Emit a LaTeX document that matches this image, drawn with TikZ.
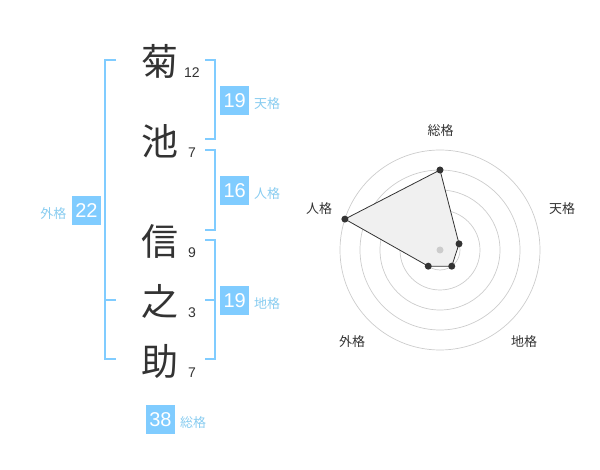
\documentclass[tikz,border=0pt]{standalone}
\usepackage{fontspec}
\setmainfont{Liberation Sans}
\newfontfamily\cjk{Noto Sans CJK JP}
\usetikzlibrary{calc}
\definecolor{boxblue}{RGB}{128,204,255}
\definecolor{lblblue}{RGB}{136,204,240}
\definecolor{ink}{RGB}{51,51,51}
\definecolor{ringgray}{RGB}{204,204,204}
\definecolor{fillgray}{RGB}{240,240,240}
\tikzset{
  kanji/.style={font=\cjk\fontsize{37}{40}\selectfont, text=ink, inner sep=0pt},
  strokes/.style={font=\fontsize{14}{16}\selectfont, text=ink, inner sep=0pt},
  numbox/.style={fill=boxblue, text=white, minimum size=28.5pt, inner sep=0pt, font=\fontsize{20}{22}\selectfont},
  kaku/.style={font=\cjk\fontsize{13}{15}\selectfont, text=lblblue, inner sep=0pt},
  bracket/.style={draw=boxblue, line width=2pt},
  ring/.style={draw=ringgray, line width=0.7pt},
  axlabel/.style={font=\cjk\fontsize{13}{15}\selectfont, text=ink, inner sep=0pt},
  dot/.style={circle, fill=ink, minimum size=7pt, inner sep=0pt},
}
\begin{document}
\begin{tikzpicture}[x=1pt,y=-1pt]
\useasboundingbox (0,0) rectangle (600,470);
% kanji
\node[kanji] (k1) at (160,61) {菊};
\node[kanji] (k2) at (160,141) {池};
\node[kanji] (k3) at (160,241) {信};
\node[kanji] (k4) at (160,301) {之};
\node[kanji] (k5) at (160,361) {助};
% stroke counts
\node[strokes] (s1) at (192,72.5) {12};
\node[strokes] (s2) at (192,152.5) {7};
\node[strokes] (s3) at (192,252.5) {9};
\node[strokes] (s4) at (192,313) {3};
\node[strokes] (s5) at (192,372.5) {7};
% brackets
\draw[bracket] (116,60) -- (105,60) -- (105,359.5) -- (116,359.5);
\draw[bracket] (105,300) -- (116,300);
\draw[bracket] (205,60) -- (214.5,60) -- (214.5,139.5) -- (205,139.5);
\draw[bracket] (205,150) -- (214.5,150) -- (214.5,230) -- (205,230);
\draw[bracket] (205,240) -- (214.5,240) -- (214.5,359.5) -- (205,359.5);
\draw[bracket] (205,300) -- (214.5,300);
% boxes
\node[numbox] (ten) at (234.7,100.3) {19};
\node[kaku, anchor=west] (tenl) at (254,104) {天格};
\node[numbox] (jin) at (234.7,190.3) {16};
\node[kaku, anchor=west] (jinl) at (254,194) {人格};
\node[numbox] (chi) at (234.7,300.3) {19};
\node[kaku, anchor=west] (chil) at (254,304) {地格};
\node[numbox] (gai) at (86.5,210.3) {22};
\node[kaku, anchor=east] (gail) at (66.5,214) {外格};
\node[numbox] (sou) at (160.5,419.3) {38};
\node[kaku, anchor=west] (soul) at (180,422.5) {総格};
% radar
\coordinate (c) at (440,250);
\foreach \r in {20,40,60,80,100} \draw[ring] (c) circle[radius=\r pt];
\coordinate (p1) at ($(c)+(90:80pt)$);
\coordinate (p2) at ($(c)+(18:20pt)$);
\coordinate (p3) at ($(c)+(-54:20pt)$);
\coordinate (p4) at ($(c)+(-126:20pt)$);
\coordinate (p5) at ($(c)+(162:100pt)$);
\draw[ink, fill=fillgray, line width=0.8pt] (p1) -- (p2) -- (p3) -- (p4) -- (p5) -- cycle;
\fill[ringgray] (c) circle[radius=3.5pt];
\foreach \p in {p1,p2,p3,p4,p5} \node[dot] at (\p) {};
\node[axlabel] (a1) at (440.7,130.7) {総格};
\node[axlabel] (a2) at (562,208.7) {天格};
\node[axlabel] (a3) at (524,342) {地格};
\node[axlabel] (a4) at (352,342) {外格};
\node[axlabel] (a5) at (319,208.7) {人格};
\end{tikzpicture}
\end{document}
